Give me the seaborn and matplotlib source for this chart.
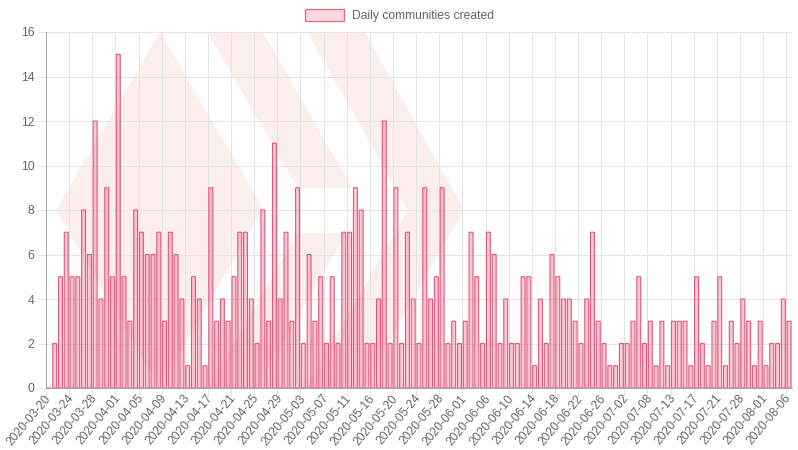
import matplotlib
matplotlib.use("Agg")
import matplotlib.pyplot as plt
from matplotlib.patches import Patch, Polygon
import numpy as np
import pandas as pd
import seaborn as sns

# one value per category, first day has no bar
daily_counts = [0, 2, 5, 7, 5, 5, 8, 6, 12, 4, 9, 5, 15, 5, 3, 8, 7, 6, 6, 7, 3, 7, 6, 4, 1, 5, 4, 1, 9, 3, 4, 3, 5,
                7, 7, 4, 2, 8, 3, 11, 4, 7, 3, 9, 2, 6, 3, 5, 2, 5, 2, 7, 7, 9, 8, 2, 2, 4, 12, 2, 9, 2, 7, 4, 2, 9,
                4, 5, 9, 2, 3, 2, 3, 7, 5, 2, 7, 6, 2, 4, 2, 2, 5, 5, 1, 4, 2, 6, 5, 4, 4, 3, 2, 4, 7, 3, 2, 1, 1, 2,
                2, 3, 5, 2, 3, 1, 3, 1, 3, 3, 3, 1, 5, 2, 1, 3, 5, 1, 3, 2, 4, 3, 1, 3, 1, 2, 2, 4, 3]

# only every 4th category has a label
tick_labels = ["2020-03-20", "2020-03-24", "2020-03-28", "2020-04-01", "2020-04-05", "2020-04-09", "2020-04-13",
               "2020-04-17", "2020-04-21", "2020-04-25", "2020-04-29", "2020-05-03", "2020-05-07", "2020-05-11",
               "2020-05-16", "2020-05-20", "2020-05-24", "2020-05-28", "2020-06-01", "2020-06-06", "2020-06-10",
               "2020-06-14", "2020-06-18", "2020-06-22", "2020-06-26", "2020-07-02", "2020-07-08", "2020-07-13",
               "2020-07-17", "2020-07-21", "2020-07-28", "2020-08-01", "2020-08-06"]

series_name = "Daily communities created"

# background logo, pixel outlines
logo_shapes = [
    [(56, 210), (160, 32), (263, 208), (160, 388)],
    [(207, 32), (263, 32), (352, 188), (298, 188)],
    [(298, 233), (347, 233), (256, 388), (208, 388)],
    [(307, 32), (365, 32), (464, 210), (362, 388), (306, 388), (408, 210)],
]

sns.set_style("white")
plt.rcParams["font.family"] = ["Liberation Sans", "DejaVu Sans"]

W, H = 798, 450
LEFT, RIGHT, TOP, BOTTOM = 46, 792, 32, 388
TEXT = "#666666"
GRID = "#e4e4e4"
AXIS = "#a8a8a8"
PX = 0.72

fig = plt.figure(figsize=(W / 100, H / 100), dpi=100)
ax = fig.add_axes([LEFT / W, 1 - BOTTOM / H, (RIGHT - LEFT) / W, (BOTTOM - TOP) / H])

df = pd.DataFrame({"day": np.arange(len(daily_counts)), "count": daily_counts})
sns.barplot(data=df, x="day", y="count", width=0.68, color="#ff6384", saturation=1, ax=ax, zorder=3)
for bar in ax.patches:
    bar.set_facecolor((1, 0.45, 0.56, 0.4))
    bar.set_edgecolor("#dc5a7e")
    bar.set_linewidth(1.1 * PX)
    bar.set_snap(False)

# logo goes under everything
for shape in logo_shapes:
    pts = [((x - LEFT) / (RIGHT - LEFT), (BOTTOM - y) / (BOTTOM - TOP)) for x, y in shape]
    ax.add_patch(Polygon(pts, closed=True, transform=ax.transAxes, facecolor="#fdeeee", edgecolor="none", zorder=0))

n = len(daily_counts)
ax.set_xlim(-0.5, n - 0.5)
ax.set_ylim(0, 16)
ax.set_xlabel("")
ax.set_ylabel("")

# grid lines sit on category edges, labels on category centres
label_pos = np.arange(0, n, 4)
ax.set_xticks(label_pos)
ax.set_xticklabels(tick_labels, rotation=50, ha="right", va="center", rotation_mode="anchor", fontsize=8.64, color=TEXT)
ax.set_xticks(label_pos - 0.5, minor=True)
ax.set_yticks(np.arange(0, 17, 2))
ax.tick_params(axis="x", which="major", length=0, pad=6)
ax.tick_params(axis="x", which="minor", length=8 * PX, width=PX, color=GRID, bottom=True)
ax.tick_params(axis="y", length=8 * PX, width=PX, color=GRID, left=True, pad=2.5, labelsize=8.8, labelcolor=TEXT)
ax.grid(True, axis="x", which="minor", color=GRID, linewidth=PX, zorder=1)
ax.grid(True, axis="y", which="major", color=GRID, linewidth=PX, zorder=1)
ax.grid(False, axis="x", which="major")
ax.set_axisbelow(True)

sns.despine(ax=ax, top=True, right=True)
for side in ["left", "bottom"]:
    ax.spines[side].set_color(AXIS)
    ax.spines[side].set_linewidth(PX)

handle = Patch(facecolor="#fdd8de", edgecolor="#dc6c88", linewidth=PX * 1.3)
fig.legend(handles=[handle], labels=[series_name], loc="center", bbox_to_anchor=(399.5 / W, 1 - 15.5 / H),
           frameon=False, fontsize=8.7, labelcolor=TEXT, handlelength=3.2, handleheight=1.1, handletextpad=0.7)

fig.savefig("out.png", dpi=100)
